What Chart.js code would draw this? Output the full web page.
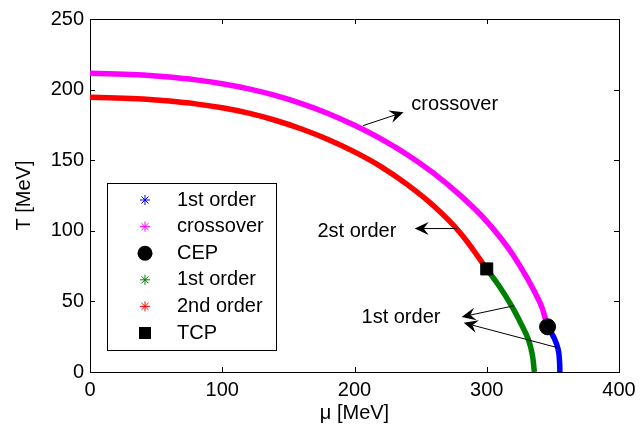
<!DOCTYPE html>
<html>
<head>
<meta charset="utf-8">
<script src="https://cdn.jsdelivr.net/npm/chart.js@4/dist/chart.umd.min.js"></script>
<style>
  html, body { margin: 0; padding: 0; background: #fff; }
  #wrap { width: 644px; height: 434px; }
</style>
</head>
<body>
<div id="wrap"><canvas id="phase"></canvas></div>
<script>
// values (mu and T in MeV)
const crossoverMu = [0, 20, 40, 60, 80, 100, 120, 140, 160, 180, 200, 220, 240, 260, 280, 300, 320, 340, 346];
const crossoverT  = [211.5, 211.1, 210.3, 208.9, 206.9, 204.1, 200.5, 195.9, 190.1, 183.1, 174.7, 165.1, 153.9, 140.7, 125.1, 106.7, 82.7, 49.7, 32];

const secondMu = [0, 20, 40, 60, 80, 100, 120, 140, 160, 180, 200, 220, 240, 260, 280, 300];
const secondT  = [194.5, 194.1, 193.3, 191.9, 189.9, 187.1, 183.3, 178.3, 172.1, 164.7, 155.9, 145.5, 132.7, 117.5, 98.5, 73];

const firstGreenMu = [300, 310, 319, 326, 331.6, 334.5, 336];
const firstGreenT  = [73, 60, 46.4, 34, 22.7, 12, 0];

const firstBlueMu = [346, 351, 354, 355, 355.3];
const firstBlueT  = [32, 24, 16, 8, 0];

const cepPoint = [346, 32];
const tcpPoint = [300, 73];

const xTicks = [0, 100, 200, 300, 400];
const yTicks = [0, 50, 100, 150, 200, 250];

const legendLabels = ['1st order', 'crossover', 'CEP', '1st order', '2nd order', 'TCP'];

// annotation texts and arrows, in data coordinates
const notes = [
    { text: 'crossover', at: [243, 189.6] },
    { text: '2st order', at: [172, 99.4] },
    { text: '1st order', at: [205.3, 38.4] }
];
const arrows = [
    { from: [206.5, 174.5], to: [237.1, 184] },
    { from: [277.3, 101.6], to: [245.5, 101.6] },
    { from: [320.5, 46.9], to: [281, 39] },
    { from: [354.5, 17], to: [282.6, 34.8] }
];

const FONT = "'Liberation Sans', Arial, sans-serif";

const toXY = (xs, ys) => xs.map((x, i) => ({ x: x, y: ys[i] }));

function drawArrow(ctx, x1, y1, x2, y2) {
    const ang = Math.atan2(y2 - y1, x2 - x1);
    const len = 14, half = 6.5, notch = 9;
    ctx.beginPath();
    ctx.moveTo(x1, y1);
    ctx.lineTo(x2 - Math.cos(ang) * notch, y2 - Math.sin(ang) * notch);
    ctx.stroke();
    ctx.save();
    ctx.translate(x2, y2);
    ctx.rotate(ang);
    ctx.beginPath();
    ctx.moveTo(0, 0);
    ctx.lineTo(-len, -half);
    ctx.lineTo(-notch, 0);
    ctx.lineTo(-len, half);
    ctx.closePath();
    ctx.fill();
    ctx.restore();
}

function drawStar(ctx, x, y, r, color) {
    ctx.save();
    ctx.strokeStyle = color;
    ctx.lineWidth = 1;
    ctx.beginPath();
    const d = r * Math.SQRT1_2;
    ctx.moveTo(x - r, y); ctx.lineTo(x + r, y);
    ctx.moveTo(x, y - r); ctx.lineTo(x, y + r);
    ctx.moveTo(x - d, y - d); ctx.lineTo(x + d, y + d);
    ctx.moveTo(x - d, y + d); ctx.lineTo(x + d, y - d);
    ctx.stroke();
    ctx.restore();
}

const frameAndTicks = {
    id: 'frameAndTicks',
    beforeDatasetsDraw(chart) {
        const { ctx, chartArea: a, scales: { x, y } } = chart;
        ctx.save();
        ctx.strokeStyle = '#000';
        ctx.lineWidth = 1;
        ctx.beginPath();
        ctx.moveTo(a.left, a.top + 0.5); ctx.lineTo(a.right + 0.5, a.top + 0.5);
        ctx.lineTo(a.right + 0.5, a.bottom);
        ctx.stroke();
        const t = 5;
        ctx.beginPath();
        xTicks.forEach(v => {
            const px = Math.round(x.getPixelForValue(v)) + 0.5;
            ctx.moveTo(px, a.bottom); ctx.lineTo(px, a.bottom - t);
            ctx.moveTo(px, a.top); ctx.lineTo(px, a.top + t);
        });
        yTicks.forEach(v => {
            const py = Math.round(y.getPixelForValue(v)) + 0.5;
            ctx.moveTo(a.left, py); ctx.lineTo(a.left + t, py);
            ctx.moveTo(a.right, py); ctx.lineTo(a.right - t, py);
        });
        ctx.stroke();
        ctx.restore();
    },
    afterDatasetsDraw(chart) {
        const { ctx, scales: { x, y } } = chart;
        ctx.save();
        ctx.strokeStyle = '#000';
        ctx.fillStyle = '#000';
        ctx.lineWidth = 1;
        arrows.forEach(ar => {
            drawArrow(ctx,
                x.getPixelForValue(ar.from[0]), y.getPixelForValue(ar.from[1]),
                x.getPixelForValue(ar.to[0]), y.getPixelForValue(ar.to[1]));
        });
        ctx.font = '20px ' + FONT;
        ctx.textAlign = 'left';
        ctx.textBaseline = 'middle';
        notes.forEach(n => {
            ctx.fillText(n.text, x.getPixelForValue(n.at[0]), y.getPixelForValue(n.at[1]));
        });

        // legend box
        const box = { left: 107.5, top: 183.5, width: 169, height: 167 };
        ctx.fillStyle = '#fff';
        ctx.fillRect(box.left, box.top, box.width, box.height);
        ctx.strokeStyle = '#000';
        ctx.strokeRect(box.left, box.top, box.width, box.height);
        const mx = 145, tx = 177, row0 = 200, step = 26.6;
        const colors = ['#0000ff', '#ff00ff', null, '#008000', '#ff0000', null];
        legendLabels.forEach((label, i) => {
            const yy = row0 + i * step;
            if (label === 'CEP') {
                ctx.fillStyle = '#000';
                ctx.beginPath();
                ctx.arc(mx, yy, 7.5, 0, Math.PI * 2);
                ctx.fill();
            } else if (label === 'TCP') {
                ctx.fillStyle = '#000';
                ctx.fillRect(mx - 6, yy - 6, 12, 12);
            } else {
                drawStar(ctx, mx, yy, 5, colors[i]);
            }
            ctx.fillStyle = '#000';
            ctx.fillText(label, tx, yy);
        });
        ctx.restore();
    }
};

const lineStyle = color => ({
    showLine: true,
    borderColor: color,
    backgroundColor: color,
    borderWidth: 5.5,
    pointRadius: 0,
    tension: 0.4,
    order: 2
});

new Chart(document.getElementById('phase'), {
    type: 'scatter',
    data: {
        datasets: [
            Object.assign({ label: 'crossover', data: toXY(crossoverMu, crossoverT) }, lineStyle('#ff00ff')),
            Object.assign({ label: '2nd order', data: toXY(secondMu, secondT) }, lineStyle('#ff0000')),
            Object.assign({ label: '1st order', data: toXY(firstGreenMu, firstGreenT) }, lineStyle('#008000')),
            Object.assign({ label: '1st order', data: toXY(firstBlueMu, firstBlueT) }, lineStyle('#0000ff')),
            {
                label: 'CEP', data: [{ x: cepPoint[0], y: cepPoint[1] }],
                pointStyle: 'circle', pointRadius: 8, backgroundColor: '#000', borderColor: '#000', order: 0
            },
            {
                label: 'TCP', data: [{ x: tcpPoint[0], y: tcpPoint[1] }],
                pointStyle: 'rect', pointRadius: 8.5, backgroundColor: '#000', borderColor: '#000', order: 0
            }
        ]
    },
    options: {
        responsive: true,
        maintainAspectRatio: false,
        animation: false,
        layout: { padding: { left: 0, top: 19, right: 25, bottom: 0 } },
        plugins: { legend: { display: false }, tooltip: { enabled: false } },
        scales: {
            x: {
                type: 'linear', min: 0, max: 400,
                afterBuildTicks: s => { s.ticks = xTicks.map(v => ({ value: v })); },
                afterFit: s => { s.height = 62; },
                grid: { display: false, drawTicks: false },
                border: { display: true, color: '#000', width: 1 },
                ticks: { color: '#000', padding: 6, font: { family: FONT, size: 20 } },
                title: { display: true, text: 'μ [MeV]', color: '#000', padding: { top: 0, bottom: 9 }, font: { family: FONT, size: 20 } }
            },
            y: {
                type: 'linear', min: 0, max: 250,
                afterBuildTicks: s => { s.ticks = yTicks.map(v => ({ value: v })); },
                afterFit: s => { s.width = 90; },
                grid: { display: false, drawTicks: false },
                border: { display: true, color: '#000', width: 1 },
                ticks: { color: '#000', padding: 6, font: { family: FONT, size: 20 } },
                title: { display: true, text: 'T [MeV]', color: '#000', padding: { top: 12, bottom: 0 }, font: { family: FONT, size: 20 } }
            }
        }
    },
    plugins: [frameAndTicks]
});
</script>
</body>
</html>
